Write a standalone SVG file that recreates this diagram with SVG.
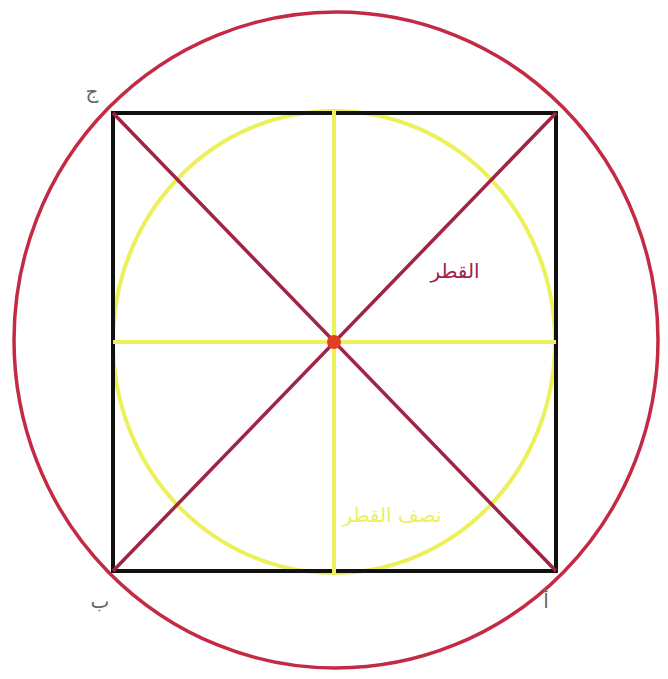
<svg xmlns="http://www.w3.org/2000/svg" width="668" height="679" viewBox="0 0 668 679">
<style>
.lbl{font-family:"DejaVu Sans","Noto Sans",sans-serif;font-size:20px}
</style>
<rect width="668" height="679" fill="#ffffff"/>
<g id="outer-circle"><ellipse cx="336" cy="340" rx="322" ry="328" fill="none" stroke="#c42a44" stroke-width="3.5"/></g>
<g id="inner-circle"><ellipse cx="334" cy="342" rx="221" ry="231" fill="none" stroke="#ecf05a" stroke-width="4"/></g>
<g id="square"><rect x="113" y="113" width="443" height="458" fill="none" stroke="#111111" stroke-width="4"/></g>
<g id="connectors">
<line x1="113" y1="342" x2="556" y2="342" stroke="#ecf05a" stroke-width="4"/>
<line x1="334" y1="110" x2="334" y2="573" stroke="#ecf05a" stroke-width="4"/>
<line x1="113" y1="113" x2="556" y2="571" stroke="#a02444" stroke-width="3.5"/>
<line x1="556" y1="113" x2="113" y2="571" stroke="#a02444" stroke-width="3.5"/>
<circle cx="334" cy="342" r="7" fill="#e0401e"/>
</g>
<g id="labels">
<text class="lbl" x="92" y="98" fill="#666666" text-anchor="middle">ج</text>
<text class="lbl" x="100" y="608" fill="#666666" text-anchor="middle">ب</text>
<text class="lbl" x="546" y="608" fill="#666666" text-anchor="middle">أ</text>
<text class="lbl" x="455" y="278" fill="#a02444" text-anchor="middle">القطر</text>
<text class="lbl" x="392" y="522" fill="#ecf05a" text-anchor="middle">نصف القطر</text>
</g>
</svg>
